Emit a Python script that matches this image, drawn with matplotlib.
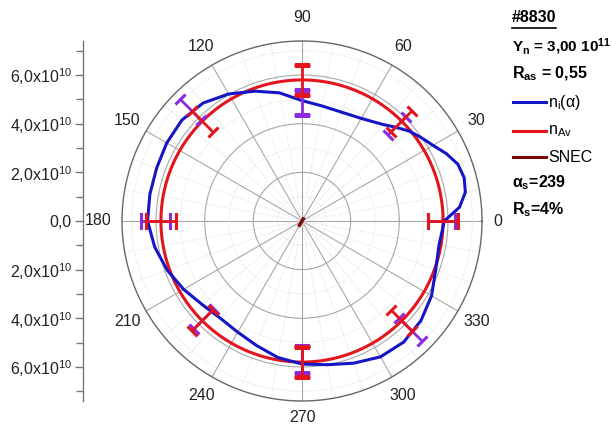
import numpy as np
import matplotlib
matplotlib.use("Agg")
import matplotlib.pyplot as plt
from matplotlib.markers import MarkerStyle
from matplotlib.transforms import Affine2D
from matplotlib.lines import Line2D
from matplotlib.ticker import FixedLocator

plt.rcParams['font.family'] = ['Liberation Sans', 'DejaVu Sans']
plt.rcParams['mathtext.fontset'] = 'custom'
plt.rcParams['mathtext.rm'] = 'Liberation Sans'
plt.rcParams['mathtext.it'] = 'Liberation Sans:italic'
plt.rcParams['mathtext.bf'] = 'Liberation Sans:bold'

# ---------------- data ----------------
blue_theta_deg = [0, 5, 10, 15, 20, 25, 30, 35, 40, 45, 50, 55, 60, 70, 80, 90,
                  100, 110, 120, 130, 140, 150, 160, 170, 180, 190, 200, 210,
                  220, 230, 240, 250, 260, 270, 280, 290, 300, 310, 320, 330,
                  340, 350]
blue_r = [5.85, 6.50, 6.82, 6.90, 6.82, 6.55, 6.22, 5.98, 5.75, 5.45, 5.18, 5.00,
          4.87, 4.76, 4.80, 4.95, 5.35, 5.68, 6.03, 6.33, 6.45, 6.42, 6.36, 6.35,
          6.35, 6.15, 5.90, 5.62, 5.35, 5.22, 5.28, 5.45, 5.70, 5.88, 6.00, 6.22,
          6.45, 6.50, 6.38, 6.15, 5.85, 5.72]  # x1e10

bar_theta_deg = [0, 45, 90, 135, 180, 225, 270, 315]
purple_center = [5.75, 5.53, 4.87, 6.50, 6.03, 5.70, 5.70, 6.30]  # x1e10
purple_err = [0.55, 0.53, 0.52, 0.62, 0.60, 0.58, 0.55, 0.68]
red_center = [5.80, 5.80, 5.80, 5.80, 5.80, 5.80, 5.80, 5.80]
red_err = [0.60, 0.60, 0.60, 0.60, 0.60, 0.60, 0.60, 0.60]

nav_value = 5.80  # x1e10
snec_theta_deg = [59, 239]
snec_r = [0.10, 0.20]  # x1e10

scale = 1e10
r_max = 7.4
left_ticks = [-6, -4, -2, 0, 2, 4, 6]
left_minor = [-7, -5, -3, -1, 1, 3, 5, 7]
angle_labels = [0, 30, 60, 90, 120, 150, 180, 210, 240, 270, 300, 330]

BLUE = '#1515c8'
RED = '#e3141c'
PURPLE = '#8b2be0'
DARKRED = '#7a0a0a'

# ---------------- figure ----------------
W, H = 612, 428
fig = plt.figure(figsize=(W / 100, H / 100), dpi=100)
fig.patch.set_facecolor('white')

cx, cy, R = 302, 221, 180
ax = fig.add_axes([(cx - R) / W, (H - cy - R) / H, 2 * R / W, 2 * R / H],
                  projection='polar')
ax.set_ylim(0, r_max * scale)
ax.set_theta_zero_location('E')
ax.set_theta_direction(1)

ax.set_xticks(np.deg2rad(np.arange(0, 360, 30)))
ax.xaxis.set_minor_locator(FixedLocator(np.deg2rad(np.arange(0, 360, 10))))
ax.set_yticks([2 * scale, 4 * scale, 6 * scale])
ax.yaxis.set_minor_locator(FixedLocator([1 * scale, 3 * scale, 5 * scale, 7 * scale]))
ax.set_xticklabels([])
ax.set_yticklabels([])
ax.tick_params(which='both', length=0)
ax.grid(which='major', color='#a8a8a8', lw=0.8, ls='-')
ax.grid(which='minor', color='#dadada', lw=0.7, ls=':')
ax.spines['polar'].set_color('#666666')
ax.spines['polar'].set_linewidth(1.0)

label_gap = {0: 1.09, 90: 1.13, 180: 1.13, 270: 1.09}
for a in angle_labels:
    ax.text(np.deg2rad(a), r_max * scale * label_gap.get(a, 1.12), str(a),
            ha='center', va='center', fontsize=11.5, color='#222222', clip_on=False)

# n_Av circle
th_full = np.linspace(0, 2 * np.pi, 721)
ax.plot(th_full, np.full_like(th_full, nav_value * scale), color=RED, lw=2.2, zorder=3)

# blue curve
bt = np.deg2rad(blue_theta_deg + [blue_theta_deg[0] + 360])
br = np.array(blue_r + [blue_r[0]]) * scale
ax.plot(bt, br, color=BLUE, lw=2.2, zorder=4, solid_joinstyle='round')


def radial_bars(thetas, centers, errs, color, z):
    for a, c, e in zip(thetas, centers, errs):
        t = np.deg2rad(a)
        lo, hi = (c - e) * scale, (c + e) * scale
        ax.plot([t, t], [lo, hi], color=color, lw=2.0, zorder=z, solid_capstyle='butt')
        ms = MarkerStyle('_', transform=Affine2D().rotate_deg(a + 90))
        ax.plot([t, t], [lo, hi], ls='none', marker=ms, markersize=11,
                markeredgewidth=2.2, color=color, zorder=z)


radial_bars(bar_theta_deg, purple_center, purple_err, PURPLE, 5)
radial_bars(bar_theta_deg, red_center, red_err, RED, 6)

# SNEC
ax.plot(np.deg2rad(snec_theta_deg), np.array(snec_r) * scale, color=DARKRED, lw=2.5, zorder=7)

# ---------------- left linear axis ----------------
axl = fig.add_axes([83 / W, (H - cy - R) / H, 0.0001, 2 * R / H])
axl.set_ylim(-r_max * scale, r_max * scale)
axl.set_xlim(0, 1)
for s in ['top', 'right', 'bottom']:
    axl.spines[s].set_visible(False)
axl.spines['left'].set_color('#777777')
axl.spines['left'].set_linewidth(1.0)
axl.set_xticks([])
axl.set_yticks([v * scale for v in left_ticks])


def fmt(v):
    if v == 0:
        return '0,0'
    return r'%d,0x10$^{10}$' % abs(v)


axl.set_yticklabels([fmt(v) for v in left_ticks], fontsize=11.5, color='#222222')
axl.yaxis.set_minor_locator(FixedLocator([v * scale for v in left_minor]))
axl.tick_params(axis='y', which='major', direction='out', length=6, width=1, color='#777777', pad=2)
axl.tick_params(axis='y', which='minor', direction='out', length=5, width=1, color='#777777')
axl.patch.set_alpha(0)

# ---------------- legend / annotations ----------------
def fy(y):
    return 1 - y / H


def fx(x):
    return x / W


fig.text(fx(512), fy(18), '#8830', fontsize=11.5, fontweight='bold', va='center', ha='left')
fig.add_artist(Line2D([fx(512), fx(556)], [fy(28), fy(28)], color='black', lw=1.2))
fig.text(fx(512), fy(47), r'Y$_\mathregular{n}$ = 3,00 10$^\mathbf{11}$', fontsize=11,
         fontweight='bold', va='center', ha='left')
fig.text(fx(512), fy(74), r'R$_\mathregular{as}$ = 0,55', fontsize=11.5,
         fontweight='bold', va='center', ha='left')

legend_rows = [(102, BLUE, r'n$_\mathregular{i}$(α)'),
               (131, RED, r'n$_\mathregular{Av}$'),
               (157, DARKRED, 'SNEC')]
for y, col, lab in legend_rows:
    fig.add_artist(Line2D([fx(513), fx(546)], [fy(y), fy(y)], color=col, lw=2.2))
    fig.text(fx(548), fy(y), lab, fontsize=11.5, va='center', ha='left')

fig.text(fx(512), fy(183), r'α$_\mathregular{s}$=239', fontsize=11.5,
         fontweight='bold', va='center', ha='left')
fig.text(fx(512), fy(210), r'R$_\mathregular{s}$=4%', fontsize=11.5,
         fontweight='bold', va='center', ha='left')

fig.savefig('out.png', dpi=100, facecolor='white')
